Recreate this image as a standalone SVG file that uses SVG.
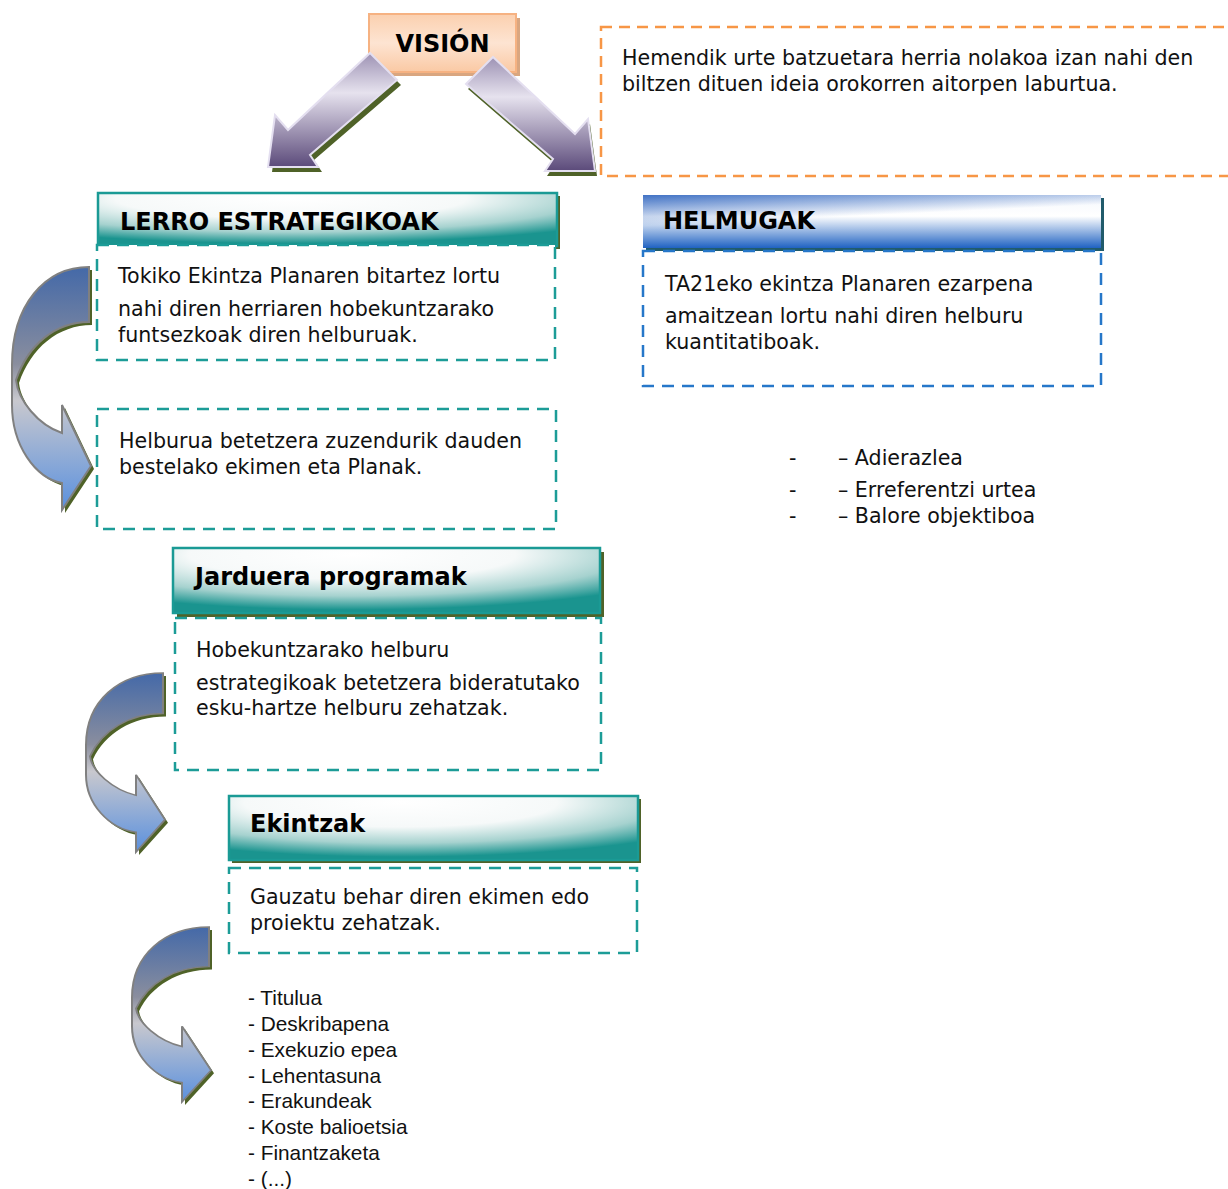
<svg xmlns="http://www.w3.org/2000/svg" xmlns:xlink="http://www.w3.org/1999/xlink" width="1228" height="1189" viewBox="0 0 1228 1189">
<defs>
<style>
.body{font-family:"DejaVu Sans",Verdana,sans-serif;font-size:20.6px;fill:#111}
.list{font-family:"Liberation Sans",Arial,sans-serif;font-size:20.8px;fill:#111}
.hdr{font-family:"DejaVu Sans",Verdana,sans-serif;font-size:24px;font-weight:bold;fill:#000}
.teal{fill:none;stroke:#1C9C97;stroke-width:2.5;stroke-dasharray:12 8}
.blue{fill:none;stroke:#2677C9;stroke-width:2.5;stroke-dasharray:12 8}
.orange{fill:none;stroke:#F79646;stroke-width:2.5;stroke-dasharray:11 7}
.shadow{fill:#4F6228}
.thead{fill:url(#tealG);stroke:#1A9A95;stroke-width:2.5}
.curve{fill:url(#curveG);stroke:#808080;stroke-width:2;vector-effect:non-scaling-stroke}
.curveSh{fill:#4F6228}
.straight{fill:url(#purpG);stroke:#E4DFF0;stroke-width:2}
</style>
<radialGradient id="tealG" cx="0.42" cy="0.1" r="0.85">
<stop offset="0" stop-color="#FFFFFF"/>
<stop offset="0.45" stop-color="#F6F9F9"/>
<stop offset="0.75" stop-color="#A6D2CF"/>
<stop offset="1" stop-color="#1A948F"/>
</radialGradient>
<linearGradient id="blueV" x1="0" y1="0" x2="0" y2="1">
<stop offset="0" stop-color="#F4F7FC"/>
<stop offset="0.4" stop-color="#FFFFFF"/>
<stop offset="1" stop-color="#1F62C2"/>
</linearGradient>
<linearGradient id="blueC" x1="0" y1="0" x2="0.2" y2="0.5">
<stop offset="0" stop-color="#2D63BE" stop-opacity="0.9"/>
<stop offset="1" stop-color="#2D63BE" stop-opacity="0"/>
</linearGradient>
<linearGradient id="peach" x1="0" y1="0" x2="0" y2="1">
<stop offset="0" stop-color="#FBD0AF"/>
<stop offset="0.5" stop-color="#FDE4D2"/>
<stop offset="1" stop-color="#FAC9A4"/>
</linearGradient>
<linearGradient id="purpG" x1="0" y1="0" x2="0" y2="1">
<stop offset="0" stop-color="#9D92B4"/>
<stop offset="0.35" stop-color="#E6E2EE"/>
<stop offset="1" stop-color="#5B4A7A"/>
</linearGradient>
<linearGradient id="curveG" x1="0" y1="0" x2="0" y2="1">
<stop offset="0" stop-color="#4469A8"/>
<stop offset="0.4" stop-color="#8A8E9E"/>
<stop offset="0.55" stop-color="#C8C8CE"/>
<stop offset="1" stop-color="#5A90DE"/>
</linearGradient>
<path id="cArrow" d="M 77,0 C 33,0 0,38 0,98 L 0,138 C 0,178 23,211 50,216 L 50,243 L 79,199 L 50,138 L 50,166 C 26,158 6,133 4,113 C 16,78 43,55 77,55 Z"/>
</defs>
<rect width="1228" height="1189" fill="#FFFFFF"/>

<g id="vision">
<rect x="373" y="18" width="147" height="58" fill="#D9A680"/>
<rect x="369" y="14" width="147" height="58" fill="url(#peach)" stroke="#F6B282" stroke-width="2"/>
<text class="hdr" x="442.5" y="52" font-size="25.5" text-anchor="middle">VISIÓN</text>
</g>

<g id="vision-desc">
<rect class="orange" x="601" y="27" width="645" height="149"/>
<text class="body" x="622" y="65">Hemendik urte batzuetara herria nolakoa izan nahi den</text>
<text class="body" x="622" y="91">biltzen dituen ideia orokorren aitorpen laburtua.</text>
</g>

<g id="lerro">
<rect class="shadow" x="101" y="196" width="459" height="53"/>
<rect class="thead" x="98" y="193" width="459" height="53"/>
<text class="hdr" x="120" y="230">LERRO ESTRATEGIKOAK</text>
</g>
<g id="lerro-desc">
<rect x="97" y="245" width="458" height="115" fill="#FFFFFF"/>
<rect class="teal" x="97" y="245" width="458" height="115"/>
<text class="body" x="118" y="283">Tokiko Ekintza Planaren bitartez lortu</text>
<text class="body" x="118" y="316">nahi diren herriaren hobekuntzarako</text>
<text class="body" x="118" y="342">funtsezkoak diren helburuak.</text>
</g>
<g id="lerro-other">
<rect class="teal" x="97" y="409" width="459" height="120"/>
<text class="body" x="119" y="448">Helburua betetzera zuzendurik dauden</text>
<text class="body" x="119" y="474">bestelako ekimen eta Planak.</text>
</g>

<g id="helmugak">
<rect x="646" y="198" width="458" height="53" fill="#215B6B"/>
<rect x="643" y="195" width="458" height="53" fill="url(#blueV)"/>
<rect x="643" y="195" width="458" height="53" fill="url(#blueC)"/>
<text class="hdr" x="663" y="229">HELMUGAK</text>
</g>
<g id="helmugak-desc">
<rect class="blue" x="643" y="251" width="458" height="135"/>
<text class="body" x="665" y="291">TA21eko ekintza Planaren ezarpena</text>
<text class="body" x="665" y="323">amaitzean lortu nahi diren helburu</text>
<text class="body" x="665" y="349">kuantitatiboak.</text>
</g>
<g id="helmugak-list">
<text class="body" x="789" y="465" font-size="16">-</text>
<text class="body" x="838" y="465">– Adierazlea</text>
<text class="body" x="789" y="497" font-size="16">-</text>
<text class="body" x="838" y="497">– Erreferentzi urtea</text>
<text class="body" x="789" y="523" font-size="16">-</text>
<text class="body" x="838" y="523">– Balore objektiboa</text>
</g>

<g id="jarduera">
<rect class="shadow" x="177" y="552" width="427" height="65"/>
<rect class="thead" x="173" y="548" width="427" height="65"/>
<text class="hdr" x="195" y="585">Jarduera programak</text>
</g>
<g id="jarduera-desc">
<rect class="teal" x="175" y="618" width="426" height="152"/>
<text class="body" x="196" y="657">Hobekuntzarako helburu</text>
<text class="body" x="196" y="690">estrategikoak betetzera bideratutako</text>
<text class="body" x="196" y="715">esku-hartze helburu zehatzak.</text>
</g>

<g id="ekintzak">
<rect class="shadow" x="232" y="799" width="409" height="64"/>
<rect class="thead" x="229" y="796" width="409" height="64"/>
<text class="hdr" x="250" y="832">Ekintzak</text>
</g>
<g id="ekintzak-desc">
<rect class="teal" x="229" y="868" width="408" height="85"/>
<text class="body" x="250" y="904">Gauzatu behar diren ekimen edo</text>
<text class="body" x="250" y="930">proiektu zehatzak.</text>
</g>
<g id="ekintzak-list">
<text class="list" x="248" y="1005">- Titulua</text>
<text class="list" x="248" y="1031">- Deskribapena</text>
<text class="list" x="248" y="1057">- Exekuzio epea</text>
<text class="list" x="248" y="1083">- Lehentasuna</text>
<text class="list" x="248" y="1108">- Erakundeak</text>
<text class="list" x="248" y="1134">- Koste balioetsia</text>
<text class="list" x="248" y="1160">- Finantzaketa</text>
<text class="list" x="248" y="1186">- (...)</text>
</g>

<g id="connectors">
<g id="arrow-vision-lerro">
<polygon class="shadow" points="374,58 401,85 314,160 322,172 272,172 279,120 292,135"/>
<polygon class="straight" points="370,53 397,80 310,155 318,167 268,167 275,115 288,130"/>
</g>
<g id="arrow-vision-helmugak">
<polygon class="shadow" points="495,62 468,89 555,164 547,176 597,176 590,124 577,139"/>
<polygon class="straight" points="493,57 466,84 553,159 545,171 595,171 588,119 575,134"/>
</g>
<g id="curve-1">
<use xlink:href="#cArrow" class="curveSh" transform="translate(15,270)"/>
<use xlink:href="#cArrow" class="curve" transform="translate(12,267)"/>
</g>
<g id="curve-2">
<use xlink:href="#cArrow" class="curveSh" transform="translate(89,676) scale(1,0.737)"/>
<use xlink:href="#cArrow" class="curve" transform="translate(86,673) scale(1,0.737)"/>
</g>
<g id="curve-3">
<use xlink:href="#cArrow" class="curveSh" transform="translate(135,930) scale(1,0.72)"/>
<use xlink:href="#cArrow" class="curve" transform="translate(132,927) scale(1,0.72)"/>
</g>
</g>
</svg>
